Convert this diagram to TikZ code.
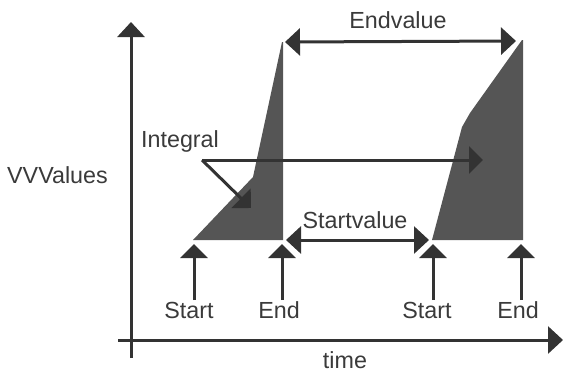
\documentclass[tikz,border=0pt]{standalone}
\usepackage{fontspec}
\setmainfont{Liberation Sans}
\usetikzlibrary{arrows.meta}
\definecolor{ink}{HTML}{333333}
\definecolor{area}{HTML}{555555}
\definecolor{txt}{HTML}{3A3A3A}
\begin{document}
\begin{tikzpicture}[x=1pt,y=-1pt,
  axis/.style={line width=3pt, draw=ink, -{Triangle[length=15pt,width=27pt]}},
  arr/.style={line width=3pt, draw=ink, -{Triangle[length=14pt,width=27pt]}},
  darr/.style={line width=3pt, draw=ink, {Triangle[length=15pt,width=27pt]}-{Triangle[length=15pt,width=27pt]}},
  lbl/.style={font=\fontsize{23.3}{26}\selectfont, text=txt, inner sep=0pt, anchor=base},
  region/.style={fill=area, draw=none}]
\useasboundingbox (0,0) rectangle (564,373);

% axes
\coordinate (y0) at (131,358);
\coordinate (y1) at (131,22);
\coordinate (x0) at (118,340);
\coordinate (x1) at (563,340);
\draw[axis] (y0) -- (y1);
\draw[axis] (x0) -- (x1);

% integral regions
\fill[region] (193,240) -- (253,177) -- (282,42) -- (283,42) -- (283,240) -- cycle;
\fill[region] (432,240) -- (462,127) -- (470,113) -- (522,40) -- (523,40) -- (523,240) -- cycle;

% labels
\node[lbl, anchor=base east] (vv) at (108,183) {VVValues};
\node[lbl] (time) at (345,368) {time};
\node[lbl] (endv) at (398,28) {Endvalue};
\node[lbl] (startv) at (355,228) {Startvalue};
\node[lbl] (integ) at (180,147) {Integral};
\node[lbl] (s1) at (189,318) {Start};
\node[lbl] (e1) at (279,318) {End};
\node[lbl] (s2) at (427,318) {Start};
\node[lbl] (e2) at (518,318) {End};

% value arrows
\coordinate (ea) at (285,42);
\coordinate (eb) at (516,41);
\draw[darr] (ea) -- (eb);
\coordinate (sa) at (286,240);
\coordinate (sb) at (429,240);
\draw[darr] (sa) -- (sb);

% integral arrows
\coordinate (ik) at (202,160);
\coordinate (ir) at (483,160);
\coordinate (id) at (251,208);
\draw[arr] (ik) -- (ir);
\draw[arr] (ik) -- (id);

% markers
\foreach \n/\x in {m1/194, m2/282, m3/433, m4/521}{
  \coordinate (\n b) at (\x,300);
  \coordinate (\n t) at (\x,244);
  \draw[arr] (\n b) -- (\n t);
}
\end{tikzpicture}
\end{document}
